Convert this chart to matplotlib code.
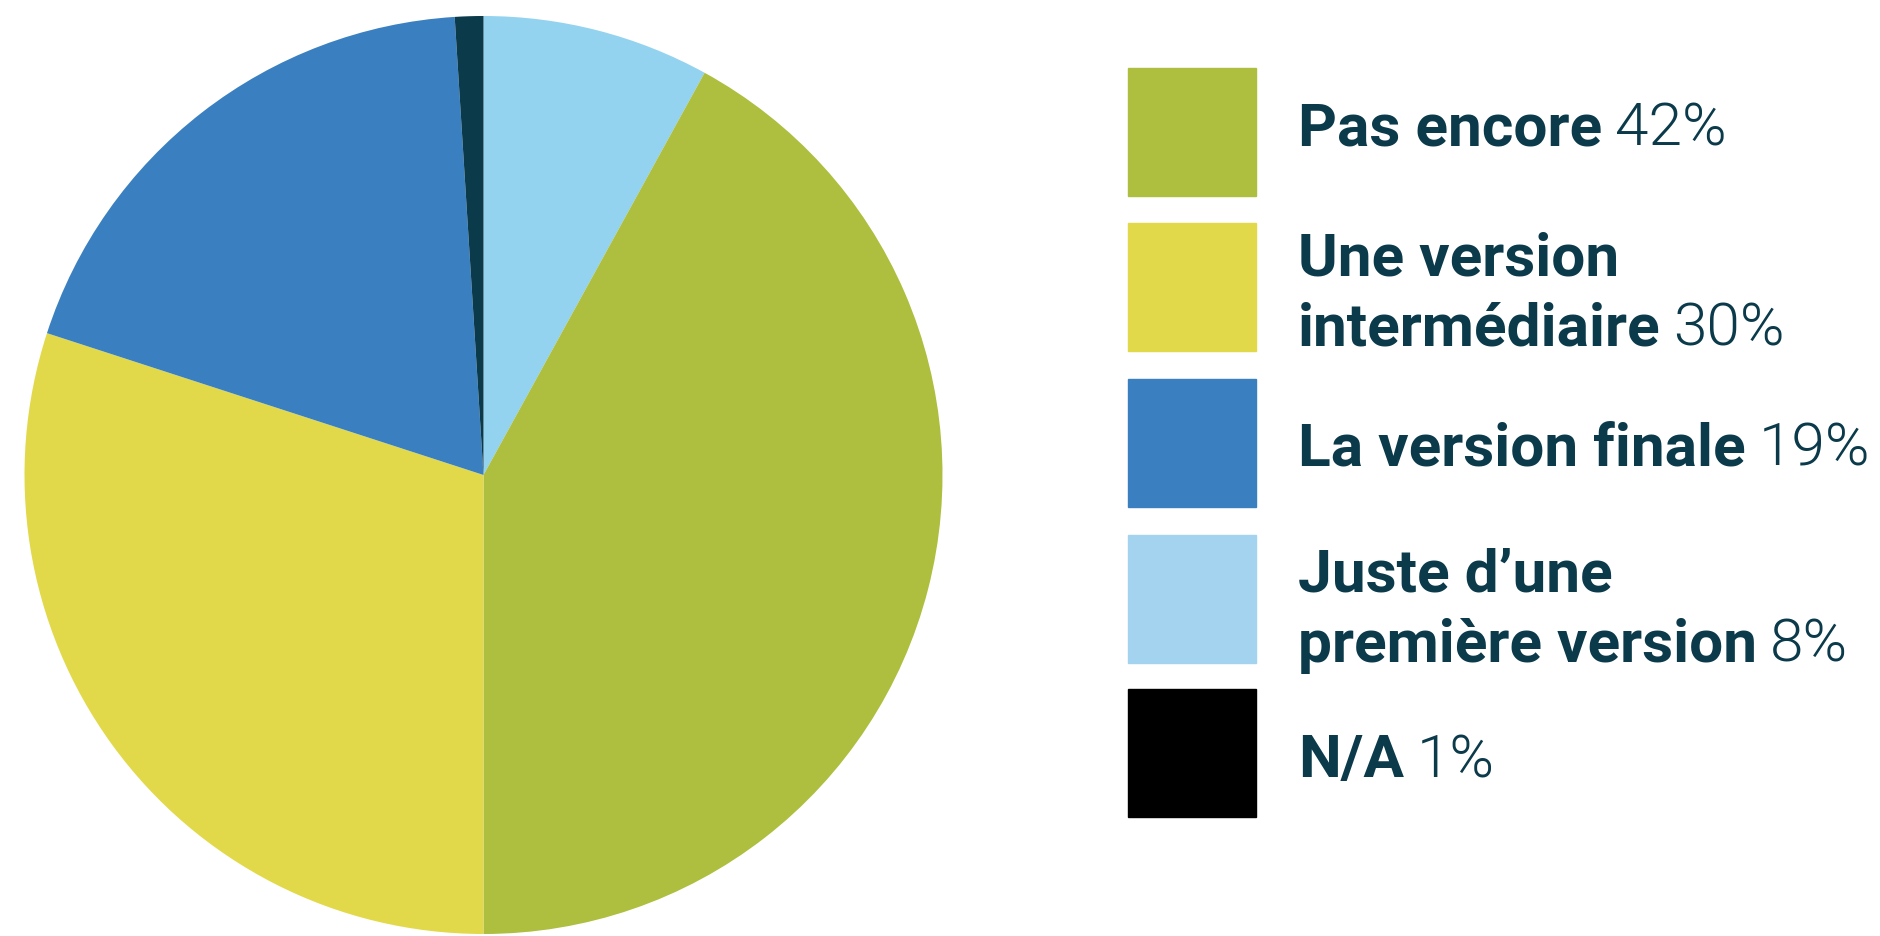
import matplotlib.pyplot as plt

# legend order
labels = [["Pas encore"], ["Une version", "intermédiaire"], ["La version finale"],
          ["Juste d’une", "première version"], ["N/A"]]
pcts = [42, 30, 19, 8, 1]
legend_colors = ["#AEBE3E", "#E2D94A", "#3A80C1", "#A3D3EF", "#000000"]
slice_colors = ["#AEBE3E", "#E2D94A", "#3A80C1", "#93D3F0", "#0B3A4B"]
# clockwise from top: light blue, green, yellow, blue, N/A
pie_order = [3, 0, 1, 2, 4]

W, H = 1881, 936
txt_color = "#0B3A4B"

fig = plt.figure(figsize=(W / 100, H / 100), dpi=100)

# pie
ax = fig.add_axes([24.5 / W, 2 / H, 918 / W, 918 / H])
ax.pie([pcts[i] for i in pie_order], colors=[slice_colors[i] for i in pie_order],
       startangle=90, counterclock=False, radius=1,
       wedgeprops=dict(linewidth=0))
ax.set_xlim(-1, 1)
ax.set_ylim(-1, 1)
ax.set_aspect("equal")
ax.axis("off")

# legend boxes and text
box_tops = [68, 223, 379, 535, 689]
box_h = 128
baselines = [[145], [276, 345], [466], [592, 662], [777]]
text_x = 1298
fs = 43.5

renderer = fig.canvas.get_renderer()
for k in range(len(labels)):
    top = box_tops[k]
    fig.patches.append(plt.Rectangle((1128 / W, (H - top - box_h) / H), 128 / W, box_h / H,
                                     transform=fig.transFigure, color=legend_colors[k]))
    last = None
    for line, base in zip(labels[k], baselines[k]):
        last = fig.text(text_x / W, (H - base) / H, line, fontsize=fs, fontfamily="Roboto",
                        fontweight="bold", color=txt_color, va="baseline", ha="left")
    bb = last.get_window_extent(renderer)
    fig.text((bb.x1 + 13) / W, (H - baselines[k][-1]) / H, f"{pcts[k]}%", fontsize=fs,
             fontfamily="Roboto", fontweight=300, color=txt_color, va="baseline", ha="left")

plt.savefig("out.png", dpi=100)
